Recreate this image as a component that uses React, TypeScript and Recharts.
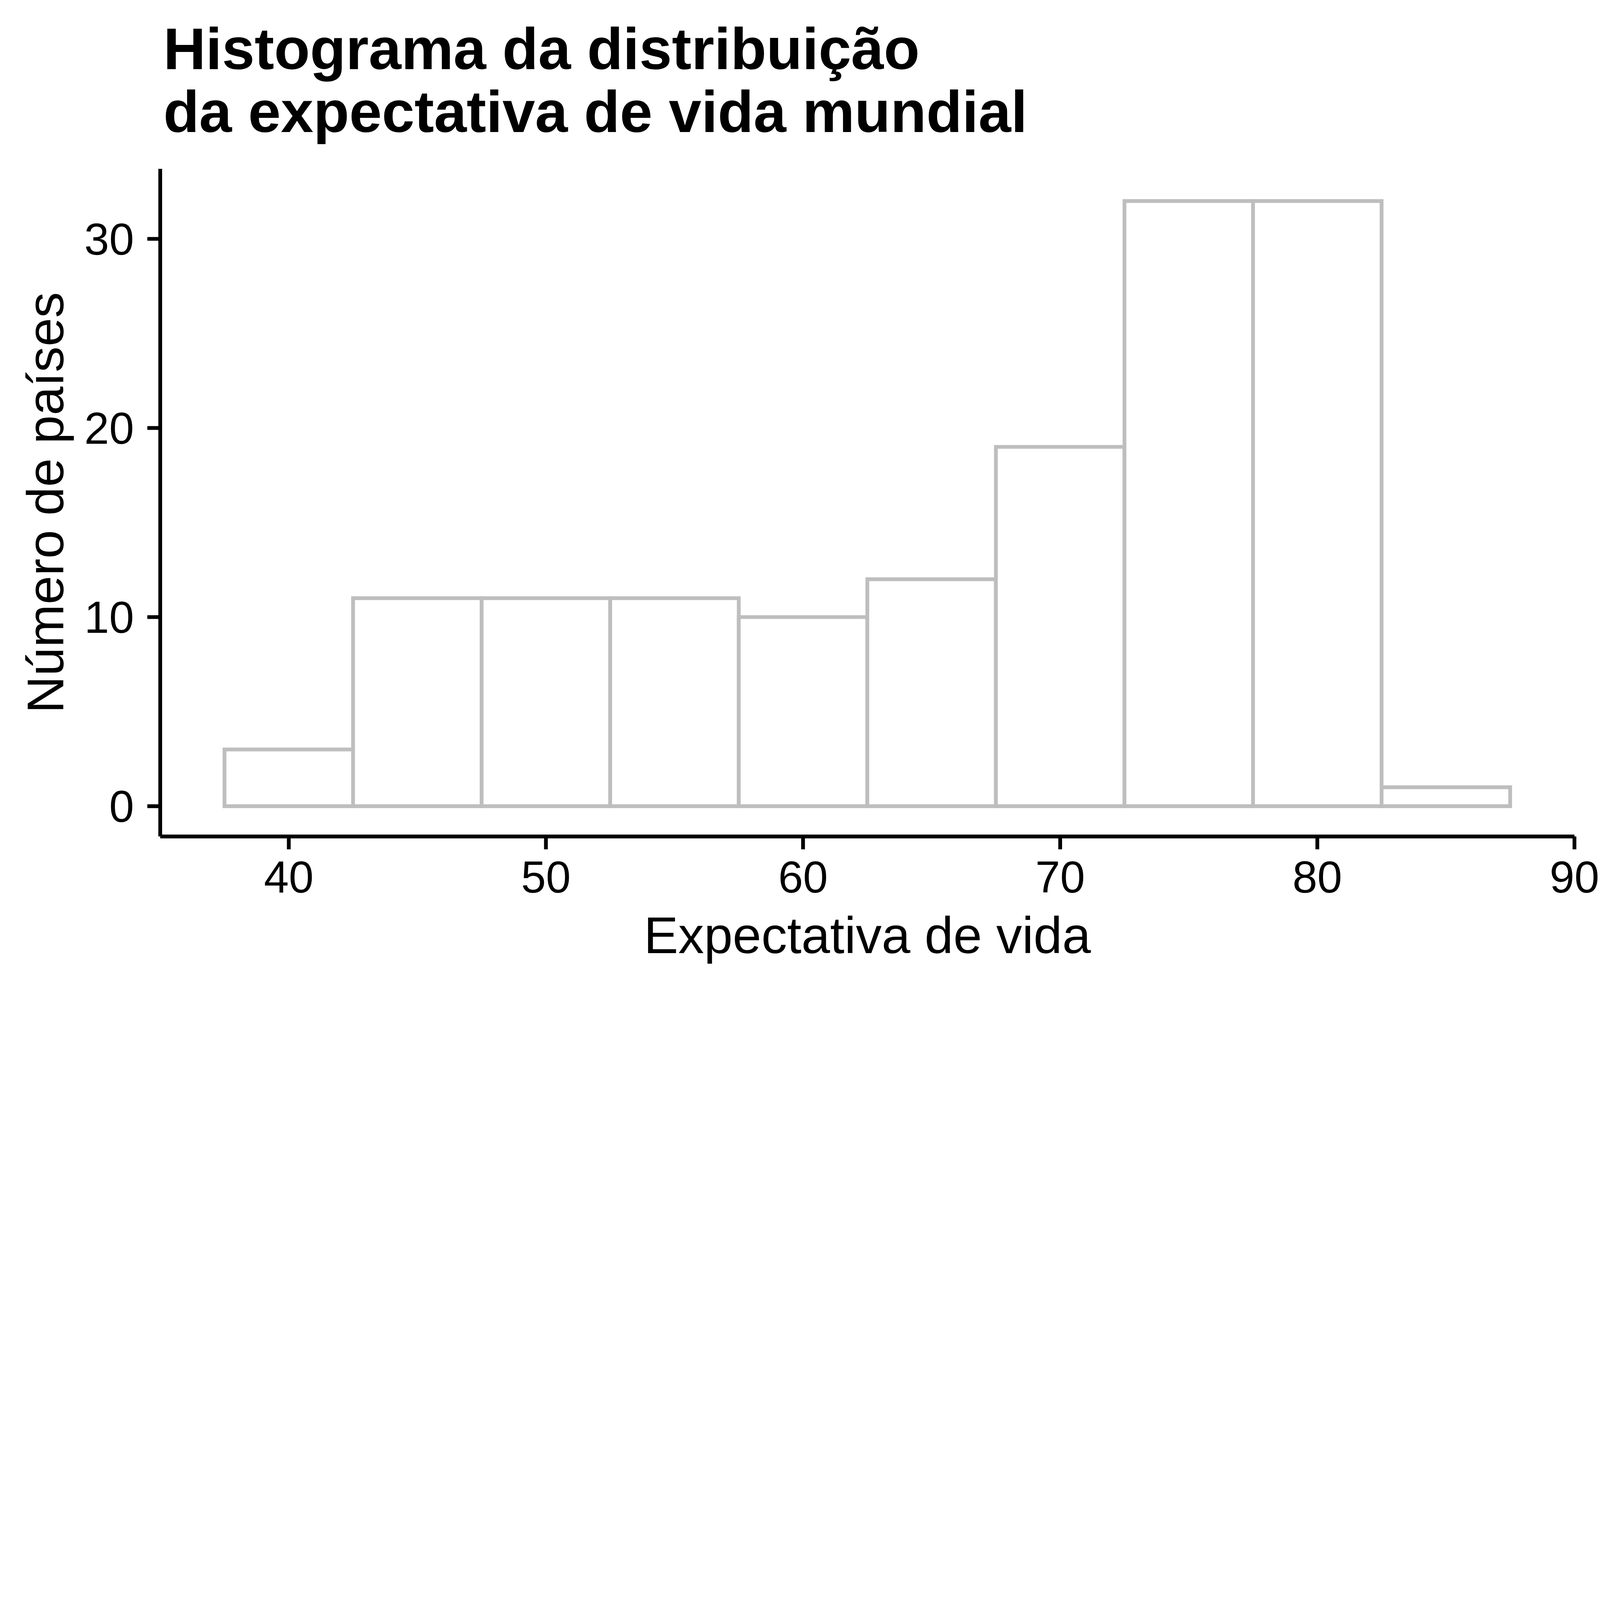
import React from 'react'
import { ComposedChart, XAxis, YAxis, ReferenceArea, Label } from 'recharts'

// bins of the histogram (life expectancy, width 5)
const binStart = [37.5, 42.5, 47.5, 52.5, 57.5, 62.5, 67.5, 72.5, 77.5, 82.5]
const binEnd = [42.5, 47.5, 52.5, 57.5, 62.5, 67.5, 72.5, 77.5, 82.5, 87.5]
const counts = [3, 11, 11, 11, 10, 12, 19, 32, 32, 1]

const xTicks = [40, 50, 60, 70, 80, 90]
const yTicks = [0, 10, 20, 30]

const titleLines = ['Histograma da distribuição', 'da expectativa de vida mundial']
const xTitle = 'Expectativa de vida'
const yTitle = 'Número de países'

const W = 7200
const H = 4449
const FONT = '"Liberation Sans", Arial, Helvetica, sans-serif'
const BAR_STROKE = '#bebebe'

const data = binStart.map((s, i) => ({ mid: (s + binEnd[i]) / 2, count: counts[i] }))

const XTitle = ({ viewBox }: any) => (
  <text
    x={viewBox.x + viewBox.width / 2}
    y={viewBox.y + 525}
    textAnchor="middle"
    fontFamily={FONT}
    fontSize={232}
    fill="#000"
  >
    {xTitle}
  </text>
)

const YTitle = ({ viewBox }: any) => {
  const x = 284
  const y = viewBox.y + viewBox.height / 2
  return (
    <text
      x={x}
      y={y}
      transform={`rotate(-90, ${x}, ${y})`}
      textAnchor="middle"
      fontFamily={FONT}
      fontSize={232}
      fill="#000"
    >
      {yTitle}
    </text>
  )
}

export default function App() {
  // the page may be narrower than the picture in css pixels: fit the drawing to it
  const k = typeof window !== 'undefined' && window.innerWidth ? window.innerWidth / W : 1
  const axisStyle = { stroke: '#000', strokeWidth: 17 }
  const tickStyle = { fill: '#000', fontSize: 201, fontFamily: FONT }

  return (
    <div style={{ width: W * k, height: H * k, overflow: 'hidden', background: '#fff' }}>
      <style>{'html,body{margin:0;overflow:hidden;background:#fff}'}</style>
      <div
        style={{
          position: 'relative',
          width: W,
          height: H,
          transform: `scale(${k})`,
          transformOrigin: '0 0',
        }}
      >
        <div
          style={{
            position: 'absolute',
            left: 735,
            top: 79,
            fontFamily: FONT,
            fontWeight: 'bold',
            fontSize: 264,
            lineHeight: '283px',
            color: '#000',
            whiteSpace: 'nowrap',
          }}
        >
          {titleLines.map((t) => (
            <div key={t}>{t}</div>
          ))}
        </div>
        <ComposedChart
          width={W}
          height={H}
          data={data}
          margin={{ top: 760, right: 115, bottom: 0, left: 0 }}
        >
          <XAxis
            type="number"
            dataKey="mid"
            domain={[35, 90]}
            ticks={xTicks}
            allowDataOverflow
            height={685}
            axisLine={axisStyle}
            tickLine={axisStyle}
            tickSize={58}
            tickMargin={52}
            tick={tickStyle}
          >
            <Label content={XTitle} />
          </XAxis>
          <YAxis
            type="number"
            domain={[-1.6, 33.7]}
            ticks={yTicks}
            allowDataOverflow
            width={721}
            axisLine={axisStyle}
            tickLine={axisStyle}
            tickSize={58}
            tickMargin={60}
            tick={tickStyle}
          >
            <Label content={YTitle} />
          </YAxis>
          {binStart.map((s, i) => (
            <ReferenceArea
              key={s}
              x1={s}
              x2={binEnd[i]}
              y1={0}
              y2={counts[i]}
              fill="#fff"
              fillOpacity={1}
              stroke={BAR_STROKE}
              strokeWidth={17}
              ifOverflow="visible"
            />
          ))}
        </ComposedChart>
      </div>
    </div>
  )
}
